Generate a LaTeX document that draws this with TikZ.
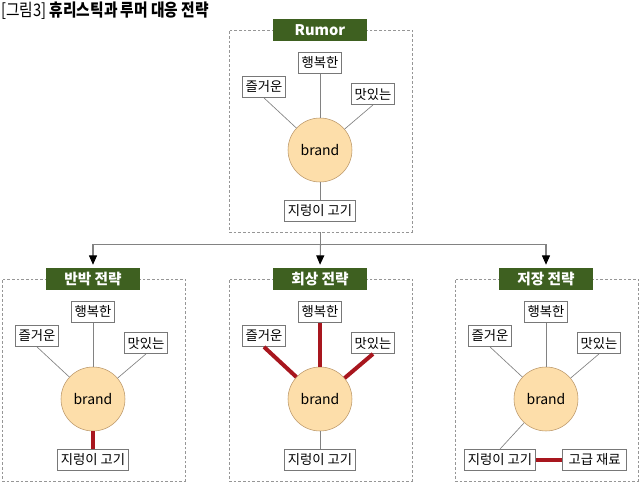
\documentclass[tikz,border=0pt]{standalone}
\usepackage{fontspec}
\setmainfont{Noto Sans CJK KR}
\newfontfamily\captionfont[FakeStretch=0.85]{Noto Sans CJK KR}
\usetikzlibrary{arrows.meta,positioning}
\definecolor{titlegreen}{RGB}{62,96,32}
\definecolor{brandfill} {RGB}{253,222,170}
\definecolor{brandline} {RGB}{186,150,104}
\definecolor{linkred}   {RGB}{168,22,30}
\definecolor{linkgray}  {RGB}{130,130,130}
\definecolor{boxgray}   {RGB}{120,120,120}
\definecolor{framegray} {RGB}{150,150,150}
\tikzset{
  panelframe/.style={draw=framegray, dashed, dash pattern=on 2pt off 1.5pt,
                     minimum width=137.25pt, minimum height=151.5pt, inner sep=0pt},
  wordbox/.style   ={draw=boxgray, fill=white, inner xsep=2.5pt, inner ysep=0pt,
                     minimum height=16pt, font=\fontsize{10}{12}\selectfont},
  brandnode/.style ={circle, draw=brandline, fill=brandfill, minimum size=48pt,
                     inner sep=0pt, font=\fontsize{10.5}{12}\selectfont},
  titlebox/.style  ={fill=titlegreen, text=white, minimum width=70.5pt,
                     minimum height=17pt, inner sep=0pt,
                     font=\bfseries\fontsize{11}{13}\selectfont},
  link/.style      ={draw=linkgray, line width=0.5pt},
  redlink/.style   ={draw=linkred, line width=3pt},
  arr/.style       ={-{Triangle[length=7pt,width=6pt,color=black]},
                     draw=linkgray, line width=0.8pt, shorten >=2pt},
}

\begin{document}
\begin{tikzpicture}[x=0.75pt,y=-0.75pt]
  \useasboundingbox (0,0) rectangle (640,484);
  \node[anchor=west, inner sep=0pt, font=\captionfont\fontsize{13}{15}\selectfont]
    (caption) at (1,11) {[그림3] \textbf{휴리스틱과 루머 대응 전략}};
  % one panel per strategy
  \foreach \p/\cx/\cy/\ttl/\sa/\sb/\sc/\sd/\jx in {
      top/320/150/Rumor/link/link/link/link/0,
      ban/93/399/반박 전략/link/link/link/redlink/0,
      hoe/320/399/회상 전략/redlink/redlink/redlink/link/0,
      jeo/546/399/저장 전략/link/link/link/link/-46}{
    \begin{scope}[shift={(\cx,\cy)}]
      \node[panelframe] (\p-frame) at (0.5,-19) {};
      \node[titlebox] (\p-title) at (0,-120) {\ttl};
      \node[brandnode] (\p-brand) at (0,0) {brand};
      \node[wordbox] (\p-happy) at (0,-87) {행복한};
      \node[wordbox] (\p-fun) at (-56,-63) {즐거운};
      \node[wordbox] (\p-tasty) at (53,-56) {맛있는};
      \node[wordbox] (\p-worm) at (\jx,61) {지렁이 고기};
      \draw[\sa] (\p-fun.south) -- (\p-brand);
      \draw[\sb] (\p-happy.south) -- (\p-brand);
      \draw[\sc] (\p-tasty.south) -- (\p-brand);
      \draw[\sd] (\p-brand) -- (\p-worm.north);
    \end{scope}
  }
  \node[wordbox, minimum width=48pt, right=20pt of jeo-worm] (jeo-premium) {고급 재료};
  \draw[redlink] (jeo-worm) -- (jeo-premium);
  % branching arrows
  \draw[link, line width=0.8pt] (top-frame.south) -- ++(0,12) coordinate (split);
  \draw[arr] (split) -| (ban-title.north);
  \draw[arr] (split) -- (hoe-title.north);
  \draw[arr] (split) -| (jeo-title.north);
\end{tikzpicture}
\end{document}
